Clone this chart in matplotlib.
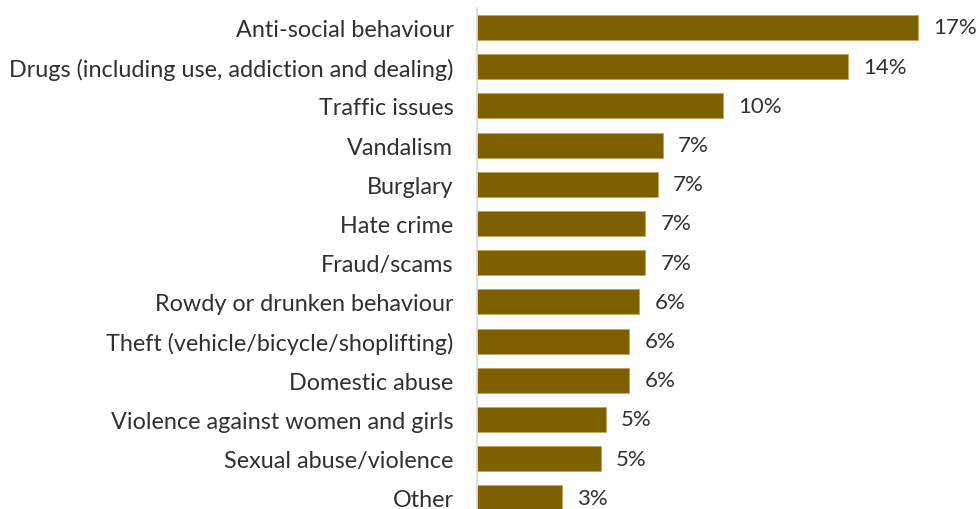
import matplotlib.pyplot as plt

categories = [
    'Anti-social behaviour',
    'Drugs (including use, addiction and dealing)',
    'Traffic issues',
    'Vandalism',
    'Burglary',
    'Hate crime',
    'Fraud/scams',
    'Rowdy or drunken behaviour',
    'Theft (vehicle/bicycle/shoplifting)',
    'Domestic abuse',
    'Violence against women and girls',
    'Sexual abuse/violence',
    'Other',
]
shares = [17.1, 14.4, 9.55, 7.2, 7.0, 6.52, 6.52, 6.3, 5.9, 5.9, 5.0, 4.8, 3.3]

plt.rcParams['font.family'] = ['Lato', 'DejaVu Sans']

fig = plt.figure(figsize=(9.79, 5.10), dpi=100)
ax = fig.add_axes([477 / 979, -8.5 / 510, 490 / 979, 509.6 / 510])

y = range(len(categories))
bars = ax.barh(y, shares, height=0.64, color='#7F6000', edgecolor='#BFA75A', linewidth=0.6)

for bar, v in zip(bars, shares):
    ax.annotate(f'{v:.0f}%', (bar.get_width(), bar.get_y() + bar.get_height() / 2),
                xytext=(11, 0), textcoords='offset points', va='center', ha='left',
                fontsize=16, color='#303030', clip_on=False)

ax.set_yticks(list(y))
ax.set_yticklabels(categories, fontsize=16.8, color='#303030')
ax.set_ylim(len(categories) - 0.5, -0.5)
ax.set_xlim(0, 19)
ax.set_xticks([])
ax.tick_params(axis='y', length=0, pad=17)

for side in ['top', 'right', 'bottom']:
    ax.spines[side].set_visible(False)
ax.spines['left'].set_color('#D9D9D9')
ax.spines['left'].set_linewidth(1.2)

fig.savefig('out.png', dpi=100)
